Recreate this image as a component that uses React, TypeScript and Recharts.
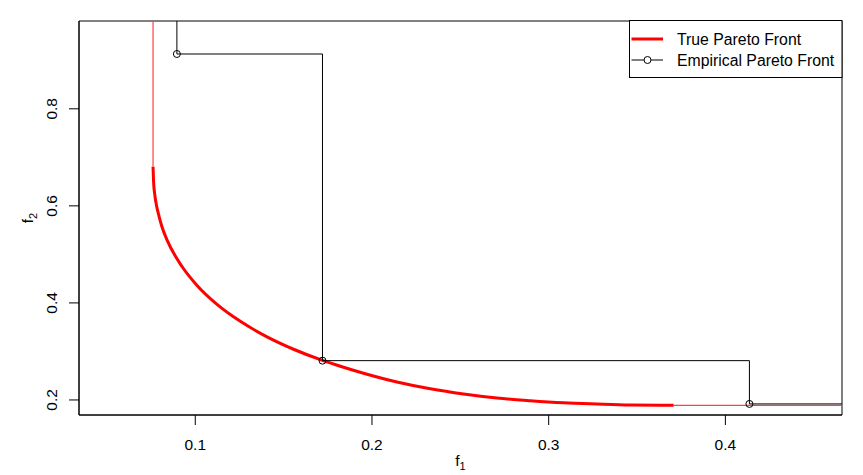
import React from "react";
import { ComposedChart, Line, XAxis, YAxis, ReferenceArea, Legend } from "recharts";

// True Pareto front (thick curve)
const trueFrontX = [0.0761, 0.0764, 0.0771, 0.0781, 0.0794, 0.0811, 0.084, 0.0925, 0.101, 0.1123, 0.1255, 0.1406, 0.1556, 0.172, 0.1821, 0.1952, 0.2141, 0.233, 0.2518, 0.2707, 0.2896, 0.3084, 0.3273, 0.3462, 0.3707];
const trueFrontY = [0.6807, 0.65, 0.623, 0.6, 0.58, 0.5576, 0.53, 0.475, 0.436, 0.397, 0.362, 0.33, 0.3045, 0.2815, 0.2694, 0.255, 0.237, 0.223, 0.2123, 0.204, 0.1986, 0.1944, 0.1918, 0.1897, 0.1889];
// thin extensions of the true front beyond its ends
const topExtX = [0.0761, 0.0761];
const topExtY = [0.6807, 1.2];
const rightExtX = [0.3707, 0.7];
const rightExtY = [0.1889, 0.1889];
// Empirical Pareto front points
const empX = [0.0896, 0.172, 0.4136];
const empY = [0.913, 0.281, 0.1918];

const xTicks = [0.1, 0.2, 0.3, 0.4];
const yTicks = [0.2, 0.4, 0.6, 0.8];
const xDomain = [0.0342, 0.466];
const yDomain = [0.169, 0.981];

const FONT = "'Liberation Sans', Arial, Helvetica, sans-serif";

const trueData = trueFrontX.map((x, i) => ({ x, y: trueFrontY[i] }));
const topExt = topExtX.map((x, i) => ({ x, y: topExtY[i] }));
const rightExt = rightExtX.map((x, i) => ({ x, y: rightExtY[i] }));

// attainment-surface staircase through the empirical points
const empData: { x: number; y: number; pt: boolean }[] = [];
empData.push({ x: empX[0], y: 1.2, pt: false });
empX.forEach((x, i) => {
  empData.push({ x, y: empY[i], pt: true });
  const nx = i + 1 < empX.length ? empX[i + 1] : 0.7;
  empData.push({ x: nx, y: empY[i], pt: false });
});

const EmpDot = (props: any) => {
  const { cx, cy, payload, index } = props;
  if (!payload || !payload.pt) return <g key={"d" + index} />;
  return <circle key={"d" + index} cx={cx} cy={cy} r={3.5} fill="none" stroke="#000" strokeWidth={1} />;
};

const XTick = (props: any) => {
  const { x, y, payload } = props;
  return (
    <text x={x} y={y + 23} textAnchor="middle" fontFamily={FONT} fontSize={15.5} fill="#000">
      {Number(payload.value).toFixed(1)}
    </text>
  );
};

const YTick = (props: any) => {
  const { y, payload } = props;
  return (
    <text transform={`translate(56.7,${y}) rotate(-90)`} textAnchor="middle" fontFamily={FONT} fontSize={15.5} fill="#000">
      {Number(payload.value).toFixed(1)}
    </text>
  );
};

const XLabel = (props: any) => {
  const vb = props.viewBox || { x: 79, width: 763 };
  const cx = vb.x + vb.width / 2;
  return (
    <text x={cx} y={466} textAnchor="middle" fontFamily={FONT} fontSize={15.5} fill="#000">
      <tspan>f</tspan>
      <tspan fontSize={11} dy={4}>1</tspan>
    </text>
  );
};

const YLabel = (props: any) => {
  const vb = props.viewBox || { y: 21, height: 394 };
  const cy = vb.y + vb.height / 2;
  return (
    <text transform={`translate(33.3,${cy}) rotate(-90)`} textAnchor="middle" fontFamily={FONT} fontSize={15.5} fill="#000">
      <tspan>f</tspan>
      <tspan fontSize={11} dy={4}>2</tspan>
    </text>
  );
};

const LegendBox = () => (
  <svg width={214} height={59} style={{ display: "block" }}>
    <rect x={0.5} y={0.5} width={212.5} height={57} fill="#fff" stroke="#000" strokeWidth={1} />
    <line x1={2.5} x2={34} y1={19} y2={19} stroke="#ff0000" strokeWidth={3} />
    <text x={48} y={24.7} fontFamily={FONT} fontSize={15.8} fill="#000">True Pareto Front</text>
    <line x1={2.5} x2={34} y1={40} y2={40} stroke="#000" strokeWidth={1} />
    <circle cx={18.5} cy={40} r={3.5} fill="#fff" stroke="#000" strokeWidth={1} />
    <text x={48} y={45.7} fontFamily={FONT} fontSize={15.8} fill="#000">Empirical Pareto Front</text>
  </svg>
);

export default function App() {
  return (
    <div style={{ position: "absolute", left: 0, top: 0, width: 863, height: 475, background: "#fff" }}>
      <ComposedChart width={863} height={475} margin={{ top: 21, right: 21, bottom: 0, left: 0 }}>
        <XAxis
          type="number"
          dataKey="x"
          domain={xDomain}
          allowDataOverflow
          ticks={xTicks}
          tick={<XTick />}
          tickSize={10}
          height={60}
          axisLine={{ stroke: "#000" }}
          tickLine={{ stroke: "#000" }}
          label={<XLabel />}
        />
        <YAxis
          type="number"
          dataKey="y"
          domain={yDomain}
          allowDataOverflow
          ticks={yTicks}
          tick={<YTick />}
          tickSize={10}
          width={79}
          axisLine={{ stroke: "#000" }}
          tickLine={{ stroke: "#000" }}
          label={<YLabel />}
        />
        <Line data={topExt} dataKey="y" type="linear" stroke="#ff4040" strokeWidth={1.2} dot={false} isAnimationActive={false} legendType="none" />
        <Line data={rightExt} dataKey="y" type="linear" stroke="#ff4040" strokeWidth={1.2} dot={false} isAnimationActive={false} legendType="none" />
        <Line data={trueData} dataKey="y" type="monotoneX" stroke="#ff0000" strokeWidth={3} dot={false} isAnimationActive={false} />
        <Line data={empData} dataKey="y" type="linear" stroke="#000" strokeWidth={1} dot={<EmpDot />} isAnimationActive={false} />
        <ReferenceArea x1={xDomain[0]} x2={xDomain[1]} y1={yDomain[0]} y2={yDomain[1]} fill="none" stroke="#000" strokeWidth={1} ifOverflow="visible" />
        <Legend
          layout="horizontal"
          verticalAlign="middle"
          align="center"
          content={<LegendBox />}
          wrapperStyle={{ position: "absolute", left: 629, top: 20, width: 214, height: 59 }}
        />
      </ComposedChart>
    </div>
  );
}
